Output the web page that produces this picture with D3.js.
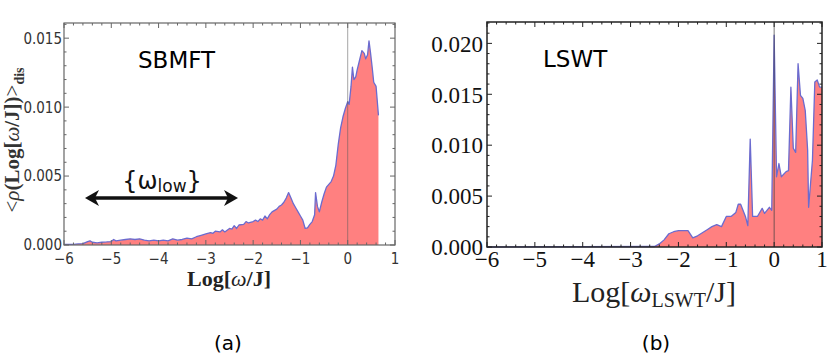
<!DOCTYPE html>
<html>
<head>
<meta charset="utf-8">
<script src="https://cdn.jsdelivr.net/npm/d3@7"></script>
<style>
  body { margin: 0; background: #fff; }
  svg { display: block; }
</style>
</head>
<body>
<svg id="chart" width="831" height="354"></svg>
<script>
// panel (a): SBMFT, disorder-averaged density vs Log[w/J]
let sbmftX = [-6.0, -5.9, -5.8, -5.7, -5.6, -5.5, -5.45, -5.4, -5.3, -5.2, -5.1, -5.0, -4.95, -4.9, -4.8, -4.7, -4.6, -4.5, -4.4, -4.3,
    -4.2, -4.1, -4.0, -3.9, -3.8, -3.7, -3.6, -3.5, -3.4, -3.3, -3.2, -3.1, -3.0, -2.9, -2.85, -2.8, -2.7, -2.65, -2.6, -2.5,
    -2.45, -2.4, -2.35, -2.3, -2.2, -2.15, -2.1, -2.0, -1.95, -1.9, -1.85, -1.8, -1.75, -1.7, -1.65, -1.6, -1.5, -1.45, -1.4, -1.35,
    -1.3, -1.25, -1.2, -1.15, -1.1, -1.05, -1.0, -0.95, -0.9, -0.85, -0.8, -0.75, -0.7, -0.68, -0.64, -0.6, -0.55, -0.5, -0.45, -0.4,
    -0.35, -0.3, -0.25, -0.2, -0.15, -0.1, -0.05, 0.0, 0.03, 0.07, 0.1, 0.13, 0.17, 0.2, 0.25, 0.3, 0.35, 0.38, 0.42, 0.45,
    0.48, 0.52, 0.55, 0.6, 0.65];
let sbmftY = [0.00005, 0.00005, 0.00005, 0.00008, 0.0001, 0.00025, 0.0003, 0.0002, 0.00015, 0.0002, 0.00022, 0.00025, 0.0004, 0.0003, 0.00035, 0.0004, 0.00045, 0.0004, 0.00045, 0.00035,
    0.0003, 0.00035, 0.0003, 0.00035, 0.0003, 0.00045, 0.00035, 0.0004, 0.0005, 0.00045, 0.0006, 0.0007, 0.0008, 0.0009, 0.00085, 0.001, 0.00095, 0.0011, 0.00095, 0.0012,
    0.00115, 0.0014, 0.0012, 0.00145, 0.0015, 0.0017, 0.0016, 0.0017, 0.0018, 0.0017, 0.0019, 0.0018, 0.0021, 0.0019, 0.0022, 0.0024, 0.0026, 0.0028, 0.0029, 0.0031,
    0.0034, 0.0038, 0.0034, 0.003, 0.0027, 0.0024, 0.0021, 0.0018, 0.0012, 0.00125, 0.0015, 0.0017, 0.0022, 0.0038, 0.0028, 0.0024, 0.0031, 0.0037, 0.0042, 0.0044,
    0.0046, 0.005, 0.0058, 0.0073, 0.0085, 0.0093, 0.0099, 0.0104, 0.0102, 0.0115, 0.0129, 0.012, 0.0122, 0.0127, 0.0134, 0.0141, 0.0139, 0.0135, 0.0138, 0.0148,
    0.014, 0.0128, 0.0118, 0.0115, 0.0094];

// panel (b): LSWT
let lswtX = [-6.0, -2.5, -2.4, -2.3, -2.2, -2.1, -2.0, -1.9, -1.8, -1.7, -1.6, -1.5, -1.4, -1.3, -1.2, -1.1, -1.0, -0.9, -0.8, -0.75,
    -0.7, -0.6, -0.55, -0.5, -0.45, -0.35, -0.25, -0.2, -0.1, -0.05, 0.0, 0.05, 0.1, 0.15, 0.25, 0.3, 0.35, 0.4, 0.45, 0.5,
    0.55, 0.6, 0.65, 0.7, 0.72, 0.8, 0.85, 0.9, 0.95, 1.0];
let lswtY = [0, 0.00005, 0.0003, 0.0007, 0.0013, 0.0015, 0.0016, 0.0016, 0.0016, 0.0009, 0.0011, 0.0014, 0.0017, 0.002, 0.0022, 0.002, 0.003, 0.003, 0.0034, 0.0042,
    0.0042, 0.003, 0.0021, 0.0106, 0.003, 0.003, 0.0038, 0.0033, 0.0039, 0.0036, 0.0208, 0.0069, 0.0082, 0.0069, 0.0074, 0.0075, 0.0157, 0.0097, 0.0093, 0.018,
    0.0149, 0.0146, 0.0134, 0.0095, 0.0039, 0.0085, 0.0162, 0.0164, 0.0157, 0.0157];

let xTicks = [-6, -5, -4, -3, -2, -1, 0, 1];
let yTicksA = [0, 0.005, 0.010, 0.015];
let yTicksB = [0, 0.005, 0.010, 0.015, 0.020];

let svg = d3.select("#chart");

function panel(cfg) {
    let x = d3.scaleLinear().domain([-6, 1]).range([cfg.left, cfg.right]);
    let y = d3.scaleLinear().domain([0, cfg.ymax]).range([cfg.bottom, cfg.top]);
    let g = svg.append("g");
    let pts = cfg.xs.map((v, i) => [v, cfg.ys[i]]);

    let area = d3.area().x(d => x(d[0])).y0(y(0)).y1(d => y(d[1]));
    let line = d3.line().x(d => x(d[0])).y(d => y(d[1]));

    g.append("path").attr("d", area(pts)).attr("fill", "#ff8080");
    g.append("path").attr("d", line(pts)).attr("fill", "none")
        .attr("stroke", "#6b6bcf").attr("stroke-width", 1.3).attr("stroke-linejoin", "round");

    // zero line
    g.append("line")
        .attr("x1", x(0)).attr("x2", x(0)).attr("y1", cfg.top).attr("y2", cfg.bottom)
        .attr("stroke", cfg.zeroColor).attr("stroke-width", 1);

    // frame ticks, inward on all four sides
    let tk = g.append("g").attr("stroke", cfg.frameColor).attr("stroke-width", 1);
    let minorX = d3.range(-6, 1.001, 0.2);
    let minorY = d3.range(0, cfg.ymax, 0.001);
    minorX.forEach(v => {
        let major = Math.abs(v - Math.round(v)) < 1e-6;
        let len = major ? 5 : 2.5;
        tk.append("line").attr("x1", x(v)).attr("x2", x(v)).attr("y1", cfg.bottom).attr("y2", cfg.bottom - len);
        tk.append("line").attr("x1", x(v)).attr("x2", x(v)).attr("y1", cfg.top).attr("y2", cfg.top + len);
    });
    minorY.forEach(v => {
        let major = Math.abs(v / 0.005 - Math.round(v / 0.005)) < 1e-6;
        let len = major ? 5 : 2.5;
        tk.append("line").attr("x1", cfg.left).attr("x2", cfg.left + len).attr("y1", y(v)).attr("y2", y(v));
        tk.append("line").attr("x1", cfg.right).attr("x2", cfg.right - len).attr("y1", y(v)).attr("y2", y(v));
    });

    g.append("rect")
        .attr("x", cfg.left).attr("y", cfg.top)
        .attr("width", cfg.right - cfg.left).attr("height", cfg.bottom - cfg.top)
        .attr("fill", "none").attr("stroke", cfg.frameColor).attr("stroke-width", cfg.frameWidth);

    // tick labels
    let fmtY = d3.format(".3f");
    g.selectAll(".yl").data(cfg.yTicks).enter().append("text")
        .attr("x", cfg.left - cfg.yLabelGap).attr("y", d => y(d))
        .attr("dy", "0.36em").attr("text-anchor", "end")
        .attr("font-family", cfg.tickFont).attr("font-size", cfg.tickSize).attr("fill", cfg.tickColor)
        .text(d => fmtY(d));
    g.selectAll(".xl").data(xTicks).enter().append("text")
        .attr("x", d => x(d)).attr("y", cfg.xLabelY).attr("text-anchor", "middle")
        .attr("font-family", cfg.tickFont).attr("font-size", cfg.tickSize).attr("fill", cfg.tickColor)
        .text(d => d < 0 ? "\u2212" + Math.abs(d) : d);
    return {x, y, g};
}

let pa = panel({
    left: 64, right: 395, top: 23, bottom: 245, ymax: 0.0161,
    xs: sbmftX, ys: sbmftY, yTicks: yTicksA,
    frameColor: "#666", frameWidth: 1.2, zeroColor: "rgba(90,90,90,0.55)",
    tickFont: "'DejaVu Sans Condensed', 'DejaVu Sans', sans-serif", tickSize: 15, tickColor: "#333",
    yLabelGap: 2, xLabelY: 264
});

let pb = panel({
    left: 487, right: 822, top: 22, bottom: 247, ymax: 0.0221,
    xs: lswtX, ys: lswtY, yTicks: yTicksB,
    frameColor: "#222", frameWidth: 1.5, zeroColor: "rgba(60,60,60,0.7)",
    tickFont: "'Liberation Serif', 'Times New Roman', serif", tickSize: 23, tickColor: "#111",
    yLabelGap: 4, xLabelY: 267
});

// panel (a) labels
svg.append("text").attr("x", 138).attr("y", 68)
    .attr("font-family", "'DejaVu Sans', sans-serif").attr("font-size", 23).text("SBMFT");

let xa = svg.append("text").attr("x", 229).attr("y", 286).attr("text-anchor", "middle")
    .attr("font-family", "'Liberation Serif', serif").attr("font-size", 22).attr("font-weight", "bold")
    .attr("fill", "#222");
xa.append("tspan").text("Log[");
xa.append("tspan").attr("font-style", "italic").attr("font-weight", "normal").text("ω");
xa.append("tspan").text("/J]");

let ya = svg.append("text")
    .attr("transform", "translate(19,140) rotate(-90)").attr("text-anchor", "middle")
    .attr("font-family", "'Liberation Serif', serif").attr("font-size", 21).attr("fill", "#333");
ya.append("tspan").text("<");
ya.append("tspan").attr("font-style", "italic").text("ρ");
ya.append("tspan").attr("font-weight", "bold").text("(Log[");
ya.append("tspan").attr("font-style", "italic").text("ω");
ya.append("tspan").attr("font-weight", "bold").text("/J])");
ya.append("tspan").text(">");
ya.append("tspan").attr("font-size", 14).attr("font-weight", "bold").attr("dy", 5).text("dis");

// {w_low} with double arrow
let wl = svg.append("text").attr("x", 162).attr("y", 189).attr("text-anchor", "middle")
    .attr("font-family", "'DejaVu Sans', sans-serif").attr("font-size", 24).attr("fill", "#111");
wl.append("tspan").text("{ω");
wl.append("tspan").attr("font-size", 17).attr("dy", 3).text("low");
wl.append("tspan").attr("dy", -3).text("}");

let ay = 198, ax1 = 85, ax2 = 238;
svg.append("line").attr("x1", ax1 + 8).attr("x2", ax2 - 8).attr("y1", ay).attr("y2", ay)
    .attr("stroke", "#111").attr("stroke-width", 3.5);
svg.append("path")
    .attr("d", d3.line()([[ax1, ay], [ax1 + 14, ay - 8], [ax1 + 10, ay], [ax1 + 14, ay + 8]]) + "Z")
    .attr("fill", "#111");
svg.append("path")
    .attr("d", d3.line()([[ax2, ay], [ax2 - 14, ay - 8], [ax2 - 10, ay], [ax2 - 14, ay + 8]]) + "Z")
    .attr("fill", "#111");

// panel (b) labels
svg.append("text").attr("x", 543).attr("y", 67)
    .attr("font-family", "'DejaVu Sans', sans-serif").attr("font-size", 23).text("LSWT");

let xb = svg.append("text").attr("x", 654).attr("y", 302).attr("text-anchor", "middle")
    .attr("font-family", "'Liberation Serif', serif").attr("font-size", 30).attr("fill", "#222");
xb.append("tspan").text("Log[");
xb.append("tspan").attr("font-style", "italic").text("ω");
xb.append("tspan").attr("font-size", 20).attr("dy", 5).text("LSWT");
xb.append("tspan").attr("dy", -5).text("/J]");

// subfigure captions
svg.append("text").attr("x", 228).attr("y", 350).attr("text-anchor", "middle")
    .attr("font-family", "'DejaVu Sans', sans-serif").attr("font-size", 20).text("(a)");
svg.append("text").attr("x", 656).attr("y", 350).attr("text-anchor", "middle")
    .attr("font-family", "'DejaVu Sans', sans-serif").attr("font-size", 20).text("(b)");
</script>
</body>
</html>
